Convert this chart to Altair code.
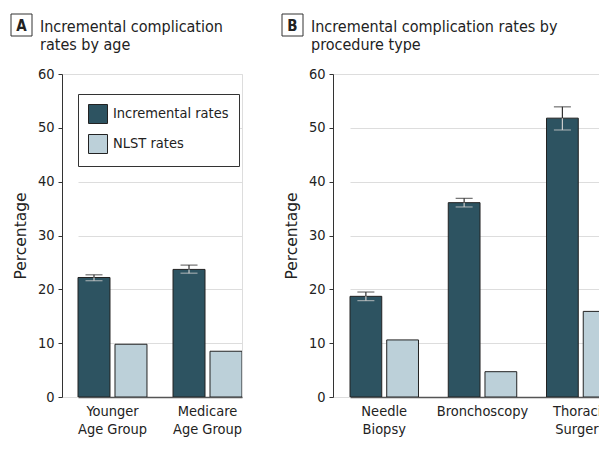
import altair as alt
import pandas as pd

# ---- data ----
series = ["Incremental rates", "NLST rates"]

age_groups = ["Younger\nAge Group", "Medicare\nAge Group"]
age_incremental = [22.2, 23.7]
age_inc_low = [21.6, 23.0]
age_inc_high = [22.7, 24.5]
age_nlst = [9.8, 8.5]

procedures = ["Needle\nBiopsy", "Bronchoscopy", "Thoracic\nSurgery"]
proc_incremental = [18.7, 36.1, 51.8]
proc_inc_low = [17.9, 35.3, 49.6]
proc_inc_high = [19.5, 36.9, 53.9]
proc_nlst = [10.6, 4.7, 15.9]

y_ticks = [0, 10, 20, 30, 40, 50, 60]

DARK = "#2d5361"
LIGHT = "#bcd0d9"
FONT = "DejaVu Sans Condensed"
TXT = "#222222"


def panel(cats, inc, low, high, nlst, width, rng, pad_inner, letter, title_lines, show_legend):
    bars = pd.DataFrame({
        "group": cats + cats,
        "series": [series[0]] * len(cats) + [series[1]] * len(cats),
        "value": inc + nlst,
    })
    err = pd.DataFrame({
        "group": cats,
        "series": [series[0]] * len(cats),
        "value": inc,
        "low": low,
        "high": high,
    })
    xs = alt.X(
        "group:N", sort=cats, title=None,
        scale=alt.Scale(range=rng, paddingInner=pad_inner, paddingOuter=0),
        axis=alt.Axis(labelExpr="split(datum.value, '\\n')", labelAngle=0, ticks=False,
                      labelPadding=7, labelFontSize=14.5, labelLineHeight=18,
                      labelColor=TXT, labelFont=FONT, domainColor="#555555",
                      domainWidth=1.5, labelBaseline="top"),
    )
    xo = alt.XOffset("series:N", sort=series,
                     scale=alt.Scale(domain=series, paddingInner=0.135, paddingOuter=0))
    ys = alt.Y(
        "value:Q", title="Percentage",
        scale=alt.Scale(domain=[0, 60], nice=False),
        axis=alt.Axis(values=y_ticks, tickSize=4, tickColor="#333333",
                      domainColor="#333333", labelFontSize=14.5, labelColor=TXT,
                      labelFont=FONT, labelPadding=4, titleFont="DejaVu Sans",
                      titleFontSize=15.5, titleFontWeight="normal", titleColor=TXT,
                      titlePadding=9, gridColor="#dddddd", grid=True),
    )
    legend = alt.Legend(
        orient="none", legendX=16, legendY=20, title=None,
        strokeColor="#333333", fillColor="white", padding=10,
        symbolType="square", symbolSize=361, symbolStrokeColor="#222222",
        symbolStrokeWidth=1, symbolOpacity=1, labelFontSize=14.5, labelFont=FONT,
        labelColor=TXT, rowPadding=6, labelOffset=5,
    ) if show_legend else None
    color = alt.Color("series:N", sort=series,
                      scale=alt.Scale(domain=series, range=[DARK, LIGHT]),
                      legend=legend)

    bar_layer = alt.Chart(bars).mark_bar(stroke="#222222", strokeWidth=1, clip=True).encode(
        x=xs, xOffset=xo, y=ys, color=color)

    base_err = alt.Chart(err)
    up_rule = base_err.mark_rule(color="#333333", strokeWidth=1.2, clip=True).encode(
        x=alt.X("group:N", sort=cats), xOffset=xo, y="value:Q", y2="high:Q")
    low_rule = base_err.mark_rule(color="#cccccc", strokeWidth=1.2, clip=True).encode(
        x=alt.X("group:N", sort=cats), xOffset=xo, y="low:Q", y2="value:Q")
    up_cap = base_err.mark_tick(color="#333333", size=17, thickness=1.2,
                                orient="horizontal", clip=True).encode(
        x=alt.X("group:N", sort=cats), xOffset=xo, y="high:Q")
    low_cap = base_err.mark_tick(color="#cccccc", size=17, thickness=1.2,
                                 orient="horizontal", clip=True).encode(
        x=alt.X("group:N", sort=cats), xOffset=xo, y="low:Q")

    one = alt.Chart(pd.DataFrame({"k": [0]}))
    box = one.mark_rect(fill="white", stroke="#333333", strokeWidth=1).encode(
        x=alt.value(-51), x2=alt.value(-30), y=alt.value(-60), y2=alt.value(-38))
    let = one.mark_text(text=letter, font=FONT, fontSize=15, fontWeight="bold",
                        color=TXT, align="center", baseline="alphabetic").encode(
        x=alt.value(-40.5), y=alt.value(-43))
    ttl = one.mark_text(text=title_lines, font=FONT, fontSize=16, color=TXT,
                        align="left", baseline="alphabetic", lineHeight=18).encode(
        x=alt.value(-22), y=alt.value(-42))

    return alt.layer(bar_layer, up_rule, low_rule, up_cap, low_cap, box, let, ttl).properties(
        width=width, height=323)


panel_a = panel(age_groups, age_incremental, age_inc_low, age_inc_high, age_nlst,
                180, [16, 180], 0.274, "A",
                ["Incremental complication", "rates by age"], True)
panel_b = panel(procedures, proc_incremental, proc_inc_low, proc_inc_high, proc_nlst,
                274, [17, 282], 0.303, "B",
                ["Incremental complication rates by", "procedure type"], False)

chart = alt.hconcat(panel_a, panel_b, spacing=38).resolve_scale(
    x="independent", xOffset="independent", color="independent"
).resolve_legend(color="independent").properties(
    autosize=alt.AutoSizeParams(type="none"),
    padding={"left": 54, "top": 66, "right": 537, "bottom": 350},
).configure_view(stroke=None).configure(background="white")

chart.save("out.html", embed_options={"renderer": "svg", "actions": False})
